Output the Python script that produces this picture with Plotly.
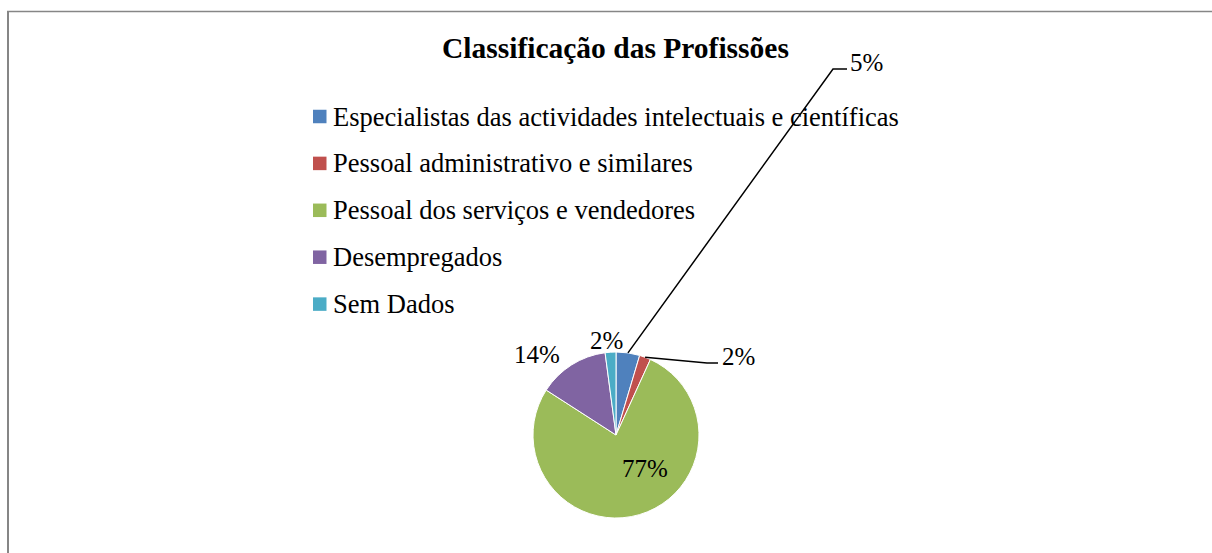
import math
import plotly.graph_objects as go

# ---- data ----
title = "Classificação das Profissões"
categories = [
    "Especialistas das actividades intelectuais e científicas",
    "Pessoal administrativo e similares",
    "Pessoal dos serviços e vendedores",
    "Desempregados",
    "Sem Dados",
]
values = [4.6, 2.2, 77.3, 13.8, 2.1]
colors = ["#4F81BD", "#C0504D", "#9BBB59", "#8064A2", "#4BACC6"]

# ---- layout constants (pixels) ----
W, H = 1212, 553
CX, CY, R = 616, 435, 83
SERIF = "Liberation Serif, Times New Roman, serif"


def px(x):
    return x / W


def py(y):
    return 1 - y / H


fig = go.Figure(go.Pie(
    labels=categories,
    values=values,
    marker=dict(colors=colors, line=dict(color="white", width=1)),
    sort=False,
    direction="clockwise",
    rotation=0,
    textinfo="none",
    hoverinfo="label+percent",
    showlegend=False,
    domain=dict(x=[px(CX - R), px(CX + R)], y=[py(CY + R), py(CY - R)]),
))

total = sum(values)
pct_text = [f"{int(v / total * 100 + 0.5)}%" for v in values]

# slice mid-edge points computed from the data
cum = 0
mid_pts = []
for v in values:
    ang = (cum + v / 2) / total * 2 * math.pi
    mid_pts.append((CX + R * math.sin(ang), CY - R * math.cos(ang)))
    cum += v

annotations = []
shapes = []

# label placements (text centres) and leader-line elbows, in pixels
label_pos = [(866, 62), (738, 356), (645, 468), (537, 354), (606, 340)]
elbows = {0: [(833, 69), (847, 69)], 1: [(707, 363), (718, 363)]}

for i, (lx, ly) in enumerate(label_pos):
    annotations.append(dict(
        x=px(lx), y=py(ly), xref="paper", yref="paper",
        text=pct_text[i], showarrow=False,
        xanchor="center", yanchor="middle",
        font=dict(family=SERIF, size=25, color="black"),
    ))
for i, pts in elbows.items():
    sx, sy = mid_pts[i]
    path = f"M {px(sx)},{py(sy)}"
    for (ex, ey) in pts:
        path += f" L {px(ex)},{py(ey)}"
    shapes.append(dict(type="path", xref="paper", yref="paper", path=path,
                       line=dict(color="black", width=1.5)))

# title
annotations.append(dict(
    x=px(615), y=py(48), xref="paper", yref="paper", text=f"<b>{title}</b>",
    showarrow=False, xanchor="center", yanchor="middle",
    font=dict(family=SERIF, size=29.5, color="black"),
))

# manual legend
leg_x0, leg_y0, leg_dy, sq = 313, 116.5, 46.9, 13.5
for i, (cat, col) in enumerate(zip(categories, colors)):
    yc = leg_y0 + i * leg_dy
    shapes.append(dict(type="rect", xref="paper", yref="paper",
                       x0=px(leg_x0), x1=px(leg_x0 + sq),
                       y0=py(yc - sq / 2), y1=py(yc + sq / 2),
                       fillcolor=col, line=dict(width=0)))
    annotations.append(dict(
        x=px(331), y=py(yc), xref="paper", yref="paper", text=cat,
        showarrow=False, xanchor="left", yanchor="middle",
        font=dict(family=SERIF, size=26.5, color="black"),
    ))

# chart border (left and top edges visible)
shapes.append(dict(type="line", xref="paper", yref="paper",
                   x0=px(8), x1=px(8), y0=py(553), y1=py(11),
                   line=dict(color="#868686", width=2)))
shapes.append(dict(type="line", xref="paper", yref="paper",
                   x0=px(7), x1=px(1212), y0=py(11.5), y1=py(11.5),
                   line=dict(color="#868686", width=1.5)))

fig.update_layout(
    width=W, height=H,
    margin=dict(l=0, r=0, t=0, b=0),
    paper_bgcolor="white", plot_bgcolor="white",
    annotations=annotations, shapes=shapes,
)

fig.write_html(
    "out.html",
    config={"displayModeBar": False},
    post_script="document.body.style.margin='0';document.body.style.overflow='hidden';",
)
